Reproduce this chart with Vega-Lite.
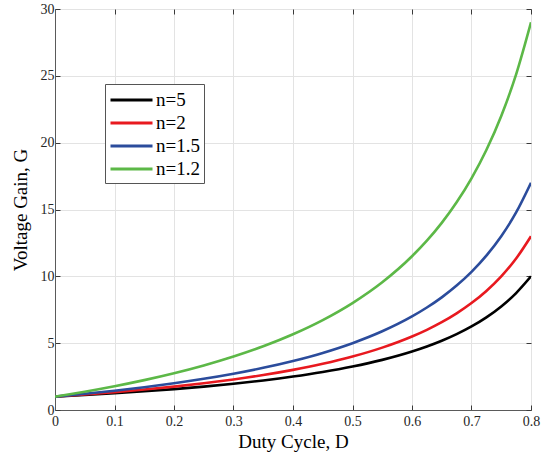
{
  "$schema": "https://vega.github.io/schema/vega-lite/v6.json",
  "width": 476,
  "height": 401,
  "padding": {"left": 55, "top": 9, "right": 18, "bottom": 48},
  "autosize": {"type": "none"},
  "background": "white",
  "config": {
    "font": "Liberation Serif",
    "view": {"stroke": "#7a7a7a", "strokeWidth": 1},
    "axis": {
      "labelFont": "Liberation Serif",
      "titleFont": "Liberation Serif",
      "labelFontSize": 14,
      "titleFontSize": 19,
      "titleFontWeight": "normal",
      "labelColor": "#262626",
      "titleColor": "#000000",
      "domainColor": "#5a5a5a",
      "tickColor": "#3a3a3a",
      "gridColor": "#e3e3e3",
      "gridOpacity": 1,
      "tickSize": -5,
      "labelPadding": 6,
      "labelFlush": false
    },
    "legend": {"labelFont": "Liberation Serif"}
  },
  "data": {
    "values": [
      {"D": 0, "G": 1, "n": "n=5"},
      {"D": 0.05, "G": 1.1184, "n": "n=5"},
      {"D": 0.1, "G": 1.25, "n": "n=5"},
      {"D": 0.15, "G": 1.3971, "n": "n=5"},
      {"D": 0.2, "G": 1.5625, "n": "n=5"},
      {"D": 0.25, "G": 1.75, "n": "n=5"},
      {"D": 0.3, "G": 1.9643, "n": "n=5"},
      {"D": 0.35, "G": 2.2115, "n": "n=5"},
      {"D": 0.4, "G": 2.5, "n": "n=5"},
      {"D": 0.45, "G": 2.8409, "n": "n=5"},
      {"D": 0.5, "G": 3.25, "n": "n=5"},
      {"D": 0.55, "G": 3.75, "n": "n=5"},
      {"D": 0.6, "G": 4.375, "n": "n=5"},
      {"D": 0.625, "G": 4.75, "n": "n=5"},
      {"D": 0.65, "G": 5.1786, "n": "n=5"},
      {"D": 0.675, "G": 5.6731, "n": "n=5"},
      {"D": 0.7, "G": 6.25, "n": "n=5"},
      {"D": 0.725, "G": 6.9318, "n": "n=5"},
      {"D": 0.75, "G": 7.75, "n": "n=5"},
      {"D": 0.775, "G": 8.75, "n": "n=5"},
      {"D": 0.8, "G": 10, "n": "n=5"},
      {"D": 0, "G": 1, "n": "n=2"},
      {"D": 0.05, "G": 1.1579, "n": "n=2"},
      {"D": 0.1, "G": 1.3333, "n": "n=2"},
      {"D": 0.15, "G": 1.5294, "n": "n=2"},
      {"D": 0.2, "G": 1.75, "n": "n=2"},
      {"D": 0.25, "G": 2, "n": "n=2"},
      {"D": 0.3, "G": 2.2857, "n": "n=2"},
      {"D": 0.35, "G": 2.6154, "n": "n=2"},
      {"D": 0.4, "G": 3, "n": "n=2"},
      {"D": 0.45, "G": 3.4545, "n": "n=2"},
      {"D": 0.5, "G": 4, "n": "n=2"},
      {"D": 0.55, "G": 4.6667, "n": "n=2"},
      {"D": 0.6, "G": 5.5, "n": "n=2"},
      {"D": 0.625, "G": 6, "n": "n=2"},
      {"D": 0.65, "G": 6.5714, "n": "n=2"},
      {"D": 0.675, "G": 7.2308, "n": "n=2"},
      {"D": 0.7, "G": 8, "n": "n=2"},
      {"D": 0.725, "G": 8.9091, "n": "n=2"},
      {"D": 0.75, "G": 10, "n": "n=2"},
      {"D": 0.775, "G": 11.3333, "n": "n=2"},
      {"D": 0.8, "G": 13, "n": "n=2"},
      {"D": 0, "G": 1, "n": "n=1.5"},
      {"D": 0.05, "G": 1.2105, "n": "n=1.5"},
      {"D": 0.1, "G": 1.4444, "n": "n=1.5"},
      {"D": 0.15, "G": 1.7059, "n": "n=1.5"},
      {"D": 0.2, "G": 2, "n": "n=1.5"},
      {"D": 0.25, "G": 2.3333, "n": "n=1.5"},
      {"D": 0.3, "G": 2.7143, "n": "n=1.5"},
      {"D": 0.35, "G": 3.1538, "n": "n=1.5"},
      {"D": 0.4, "G": 3.6667, "n": "n=1.5"},
      {"D": 0.45, "G": 4.2727, "n": "n=1.5"},
      {"D": 0.5, "G": 5, "n": "n=1.5"},
      {"D": 0.55, "G": 5.8889, "n": "n=1.5"},
      {"D": 0.6, "G": 7, "n": "n=1.5"},
      {"D": 0.625, "G": 7.6667, "n": "n=1.5"},
      {"D": 0.65, "G": 8.4286, "n": "n=1.5"},
      {"D": 0.675, "G": 9.3077, "n": "n=1.5"},
      {"D": 0.7, "G": 10.3333, "n": "n=1.5"},
      {"D": 0.725, "G": 11.5455, "n": "n=1.5"},
      {"D": 0.75, "G": 13, "n": "n=1.5"},
      {"D": 0.775, "G": 14.7778, "n": "n=1.5"},
      {"D": 0.8, "G": 17, "n": "n=1.5"},
      {"D": 0, "G": 1, "n": "n=1.2"},
      {"D": 0.05, "G": 1.3684, "n": "n=1.2"},
      {"D": 0.1, "G": 1.7778, "n": "n=1.2"},
      {"D": 0.15, "G": 2.2353, "n": "n=1.2"},
      {"D": 0.2, "G": 2.75, "n": "n=1.2"},
      {"D": 0.25, "G": 3.3333, "n": "n=1.2"},
      {"D": 0.3, "G": 4, "n": "n=1.2"},
      {"D": 0.35, "G": 4.7692, "n": "n=1.2"},
      {"D": 0.4, "G": 5.6667, "n": "n=1.2"},
      {"D": 0.45, "G": 6.7273, "n": "n=1.2"},
      {"D": 0.5, "G": 8, "n": "n=1.2"},
      {"D": 0.55, "G": 9.5556, "n": "n=1.2"},
      {"D": 0.6, "G": 11.5, "n": "n=1.2"},
      {"D": 0.625, "G": 12.6667, "n": "n=1.2"},
      {"D": 0.65, "G": 14, "n": "n=1.2"},
      {"D": 0.675, "G": 15.5385, "n": "n=1.2"},
      {"D": 0.7, "G": 17.3333, "n": "n=1.2"},
      {"D": 0.725, "G": 19.4545, "n": "n=1.2"},
      {"D": 0.75, "G": 22, "n": "n=1.2"},
      {"D": 0.775, "G": 25.1111, "n": "n=1.2"},
      {"D": 0.8, "G": 29, "n": "n=1.2"}
    ]
  },
  "layer": [
    {
      "mark": {"type": "line", "strokeWidth": 2.6, "interpolate": "monotone", "clip": true},
      "encoding": {
        "x": {
          "field": "D", "type": "quantitative",
          "scale": {"domain": [0, 0.8], "nice": false, "zero": false},
          "axis": {"title": "Duty Cycle, D", "labelFont": "Liberation Serif", "values": [0, 0.1, 0.2, 0.3, 0.4, 0.5, 0.6, 0.7, 0.8], "format": "~g", "grid": true, "labelPadding": 9, "titlePadding": 4}
        },
        "y": {
          "field": "G", "type": "quantitative",
          "scale": {"domain": [0, 30], "nice": false},
          "axis": {"title": "Voltage Gain, G", "labelFont": "Liberation Serif", "values": [0, 5, 10, 15, 20, 25, 30], "grid": true, "titlePadding": 10}
        },
        "color": {
          "field": "n", "type": "nominal",
          "scale": {"domain": ["n=5", "n=2", "n=1.5", "n=1.2"], "range": ["#000000", "#e8191f", "#2b4c9c", "#5cb847"]},
          "legend": {
            "title": null,
            "orient": "none",
            "legendX": 50,
            "legendY": 75,
            "symbolType": "M-1,0H3",
            "symbolSize": 441,
            "symbolStrokeWidth": 3,
            "symbolFillColor": "transparent",
            "labelFont": "Liberation Serif",
            "labelFontSize": 19,
            "labelColor": "#000000",
            "strokeColor": "#555555",
            "fillColor": "white",
            "padding": 4,
            "rowPadding": 1,
            "labelOffset": 23
          }
        }
      }
    },
    {
      "mark": {"type": "line", "opacity": 0},
      "encoding": {
        "x": {"field": "D", "type": "quantitative", "scale": {"domain": [0, 0.8], "nice": false, "zero": false}, "axis": {"orient": "top", "title": null, "labels": false, "domain": false, "values": [0, 0.1, 0.2, 0.3, 0.4, 0.5, 0.6, 0.7, 0.8], "grid": false}},
        "y": {"field": "G", "type": "quantitative", "scale": {"domain": [0, 30], "nice": false}, "axis": {"orient": "right", "title": null, "labels": false, "domain": false, "values": [0, 5, 10, 15, 20, 25, 30], "grid": false}}
      }
    }
  ],
  "resolve": {"axis": {"x": "independent", "y": "independent"}}
}
